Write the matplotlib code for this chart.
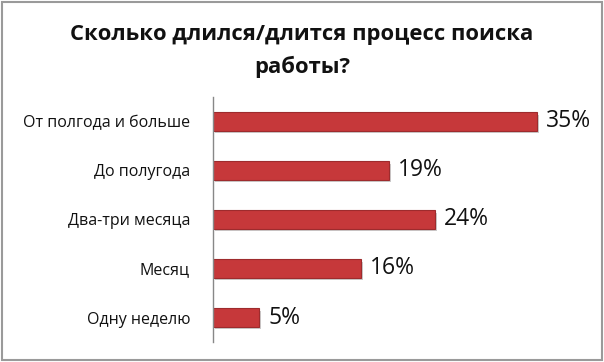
import matplotlib
matplotlib.use("Agg")
import matplotlib.pyplot as plt
import matplotlib.patheffects as pe
from matplotlib.patches import Rectangle

categories = ["От полгода и больше", "До полугода", "Два-три месяца", "Месяц", "Одну неделю"]
values = [35, 19, 24, 16, 5]

plt.rcParams["font.family"] = ["Open Sans", "DejaVu Sans"]

fig = plt.figure(figsize=(6.04, 3.62), dpi=100)
fig.patch.set_facecolor("white")
fig.patches.append(Rectangle((0.004, 0.006), 0.992, 0.988, transform=fig.transFigure,
                             fill=False, edgecolor="#9a9a9a", linewidth=1.5))

ax = fig.add_axes([0.3526, 0.0552, 0.6126, 0.677])
ypos = list(range(len(categories)))
bars = ax.barh(ypos, values, height=0.37, color="#c6383a", edgecolor="#9e2b2d", linewidth=0.8)
for b in bars:
    b.set_path_effects([pe.SimplePatchShadow(offset=(1.5, -2), shadow_rgbFace="#999999", alpha=0.5), pe.Normal()])

for y, v in zip(ypos, values):
    ax.text(v + 1.0, y, f"{v}%", va="center", ha="left", fontsize=16.5, color="#111111")

ax.set_ylim(len(categories) - 0.5, -0.5)
ax.set_xlim(0, 40)
ax.set_yticks(ypos)
ax.set_yticklabels(categories, fontsize=11.5, color="#111111")
ax.tick_params(axis="y", length=0, pad=16.5)
ax.set_xticks([])
for s in ["top", "right", "bottom"]:
    ax.spines[s].set_visible(False)
ax.spines["left"].set_color("#888888")
ax.spines["left"].set_linewidth(1)

fig.text(0.5, 0.905, "Сколько длился/длится процесс поиска", ha="center", va="center",
         fontsize=15.8, fontweight="bold", color="#111111")
fig.text(0.5, 0.815, "работы?", ha="center", va="center",
         fontsize=15.8, fontweight="bold", color="#111111")

fig.savefig("out.png", dpi=100)
